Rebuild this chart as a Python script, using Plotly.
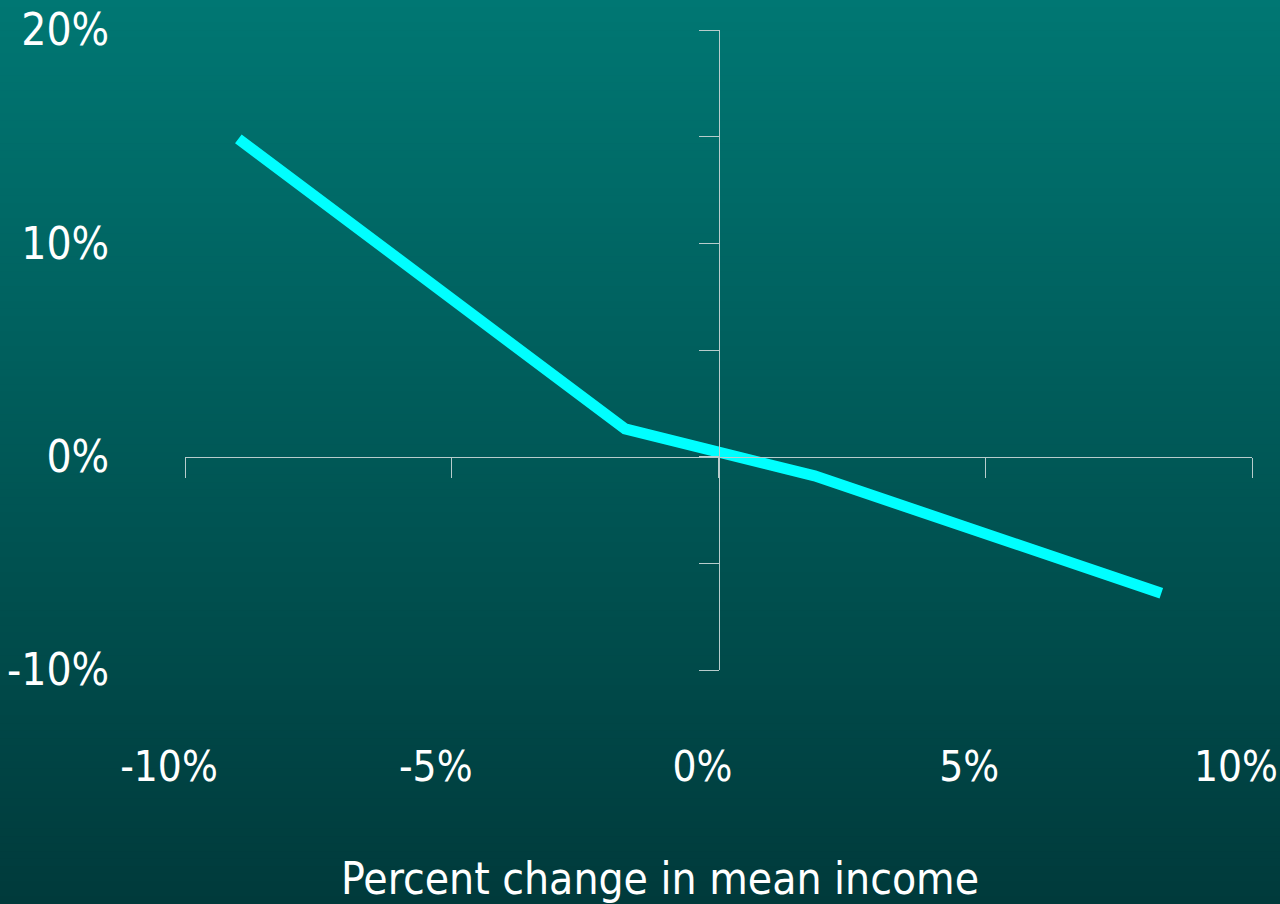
import plotly.graph_objects as go

# Data
income_change = [-9.0, -1.75, 1.8, 8.3]
outcome_change = [14.9, 1.3, -0.9, -6.4]
x_ticks = [-10, -5, 0, 5, 10]
x_labels = ["-10%", "-5%", "0%", "5%", "10%"]
y_ticks = [-10, 0, 10, 20]
y_labels = ["-10%", "0%", "10%", "20%"]

FONT = "Liberation Sans Narrow, DejaVu Sans Condensed, Liberation Sans, Arial, sans-serif"
AXIS_COL = "#b8cccc"

fig = go.Figure()
fig.add_trace(go.Scatter(
    x=income_change, y=outcome_change, mode="lines",
    line=dict(color="#00ffff", width=11), showlegend=False,
    hoverinfo="skip",
))

# background gradient (styling only)
W, H = 1280, 904
l, r, t, b = 185, 28, 30, 234
pw, ph = W - l - r, H - t - b
top_rgb = (0x00, 0x77, 0x73)
bot_rgb = (0x00, 0x3a, 0x3b)
N = 120
shapes = []
for i in range(N):
    f = (i + 0.5) / N
    c = tuple(round(top_rgb[k] + (bot_rgb[k] - top_rgb[k]) * f) for k in range(3))
    py0 = H * i / N
    py1 = H * (i + 1) / N + 1
    shapes.append(dict(
        type="rect", xref="paper", yref="paper", layer="below",
        x0=-l / pw - 0.05, x1=1 + r / pw + 0.05,
        y0=(H - b - py1) / ph, y1=(H - b - py0) / ph,
        line=dict(width=0), fillcolor="rgb(%d,%d,%d)" % c,
    ))

fig.update_layout(
    width=W, height=H,
    margin=dict(l=l, r=r, t=t, b=b, autoexpand=False),
    paper_bgcolor="#005653", plot_bgcolor="rgba(0,0,0,0)",
    shapes=shapes,
    font=dict(family=FONT, color="white", size=44),
    xaxis=dict(
        range=[-10, 10], anchor="free", position=1 / 3, automargin=False,
        showline=True, linecolor=AXIS_COL, linewidth=1,
        tickvals=x_ticks, ticks="outside", ticklen=20, tickcolor=AXIS_COL,
        showticklabels=False, showgrid=False, zeroline=False,
    ),
    yaxis=dict(
        range=[-10, 20], anchor="free", position=0.5, automargin=False,
        showline=True, linecolor=AXIS_COL, linewidth=1,
        tickvals=[-10, -5, 0, 5, 10, 15, 20], ticks="outside", ticklen=20,
        tickcolor=AXIS_COL, showticklabels=False, showgrid=False, zeroline=False,
    ),
    xaxis2=dict(
        overlaying="x", anchor="free", position=0, side="bottom", automargin=False,
        range=[-10, 10],
        tickvals=x_ticks, ticktext=x_labels, ticklabelshift=-16,
        ticklabeloverflow="allow",
        ticks="outside", ticklen=60, tickcolor="rgba(0,0,0,0)",
        showline=False, showgrid=False, zeroline=False,
        tickfont=dict(family=FONT, size=42, color="white"),
    ),
    yaxis2=dict(
        overlaying="y", anchor="free", position=0, side="left", automargin=False,
        range=[-10, 20],
        tickvals=y_ticks, ticktext=y_labels, ticklabeloverflow="allow",
        ticks="outside", ticklen=67, tickcolor="rgba(0,0,0,0)",
        showline=False, showgrid=False, zeroline=False,
        tickfont=dict(family=FONT, size=44, color="white"),
    ),
    annotations=[dict(
        text="Percent change in mean income", xref="paper", yref="paper",
        x=(660 - l) / pw, y=(H - b - 878) / ph, xanchor="center", yanchor="middle",
        showarrow=False, font=dict(family=FONT, size=44, color="white"),
    )],
)
fig.add_trace(go.Scatter(x=[], y=[], xaxis="x2", yaxis="y2", showlegend=False))

fig.write_html(
    "out.html",
    config={"displayModeBar": False},
    post_script="document.body.style.margin='0';document.body.style.overflow='hidden';",
)
